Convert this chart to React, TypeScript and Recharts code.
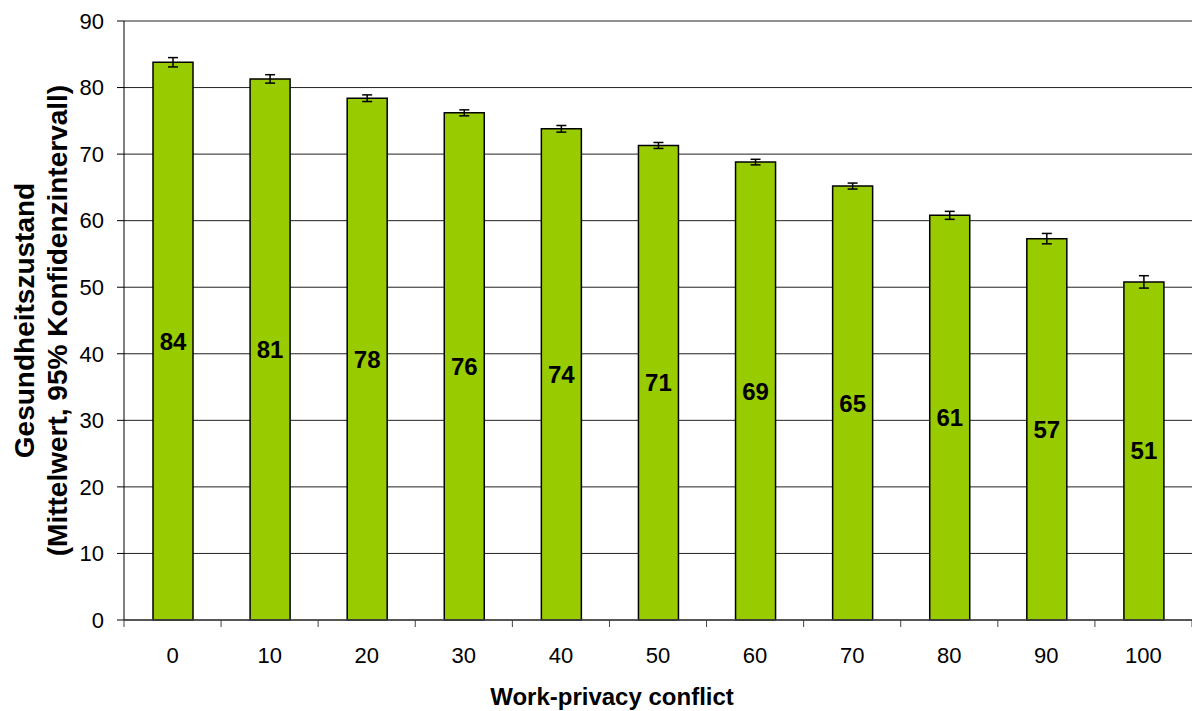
import React from 'react';
import { BarChart, Bar, XAxis, YAxis, CartesianGrid, ErrorBar, LabelList, Label } from 'recharts';

const categories = ['0', '10', '20', '30', '40', '50', '60', '70', '80', '90', '100'];
const means = [83.8, 81.3, 78.4, 76.2, 73.8, 71.3, 68.8, 65.2, 60.8, 57.3, 50.8];
const ciHalf = [0.7, 0.63, 0.5, 0.45, 0.5, 0.45, 0.42, 0.45, 0.6, 0.78, 0.93];
const yTicks = [0, 10, 20, 30, 40, 50, 60, 70, 80, 90];

const data = categories.map((c, i) => ({ cat: c, mean: means[i], err: ciHalf[i] }));

const FONT = '"Liberation Sans", Arial, sans-serif';
const W = 1192;
const H = 711;
const Y_AXIS_W = 124;
const BAND = (W - Y_AXIS_W) / categories.length;

const XTick = (props: any) => {
  const { x, y, payload, index } = props;
  const half = BAND / 2;
  return (
    <g>
      <line x1={x - half} y1={y} x2={x - half} y2={y + 7} stroke="#444" strokeWidth={1} />
      {index === categories.length - 1 && (
        <line x1={x + half} y1={y} x2={x + half} y2={y + 7} stroke="#444" strokeWidth={1} />
      )}
      <text x={x} y={y + 43} textAnchor="middle" fontSize={22} fontFamily={FONT} fill="#000">
        {payload.value}
      </text>
    </g>
  );
};

const YTitle = (props: any) => {
  const vb = props.viewBox || {};
  const cy = (vb.y ?? 21) + (vb.height ?? 599) / 2;
  return (
    <g>
      <text
        transform={`translate(34, ${cy}) rotate(-90)`}
        textAnchor="middle"
        fontSize={28}
        fontWeight="bold"
        fontFamily={FONT}
        fill="#000"
      >
        Gesundheitszustand
      </text>
      <text
        transform={`translate(67, ${cy}) rotate(-90)`}
        textAnchor="middle"
        fontSize={28}
        fontWeight="bold"
        fontFamily={FONT}
        fill="#000"
      >
        (Mittelwert, 95% Konfidenzintervall)
      </text>
    </g>
  );
};

const XTitle = () => (
  <text x={612} y={705} textAnchor="middle" fontSize={24} fontWeight="bold" fontFamily={FONT} fill="#000">
    Work-privacy conflict
  </text>
);

export default function App() {
  return (
    <div style={{ position: 'absolute', left: 0, top: 0, width: W, height: H, background: '#fff' }}>
      <BarChart width={W} height={H} data={data} margin={{ top: 21, right: 0, left: 0, bottom: 0 }} barCategoryGap={0}>
        <CartesianGrid horizontal vertical={false} stroke="#222" strokeWidth={1} />
        <XAxis
          dataKey="cat"
          height={91}
          axisLine={{ stroke: '#444', strokeWidth: 1.5 }}
          tickLine={false}
          tickSize={0}
          tickMargin={0}
          tick={<XTick />}
          interval={0}
        >
          <Label content={<XTitle />} />
        </XAxis>
        <YAxis
          width={Y_AXIS_W}
          domain={[0, 90]}
          ticks={yTicks}
          interval={0}
          axisLine={{ stroke: '#000', strokeWidth: 1 }}
          tickLine={{ stroke: '#000', strokeWidth: 1 }}
          tickSize={7}
          tickMargin={13}
          tick={{ fontSize: 22, fill: '#000', fontFamily: FONT }}
        >
          <Label content={<YTitle />} />
        </YAxis>
        <Bar dataKey="mean" fill="#99CC00" stroke="#000" strokeWidth={1.5} barSize={40} isAnimationActive={false}>
          <ErrorBar dataKey="err" direction="y" width={5} stroke="#000" strokeWidth={1.5} />
          <LabelList
            dataKey="mean"
            position="center"
            formatter={(v: any) => Math.round(Number(v))}
            fontSize={24}
            fontWeight="bold"
            fontFamily={FONT}
            fill="#000"
          />
        </Bar>
      </BarChart>
    </div>
  );
}
